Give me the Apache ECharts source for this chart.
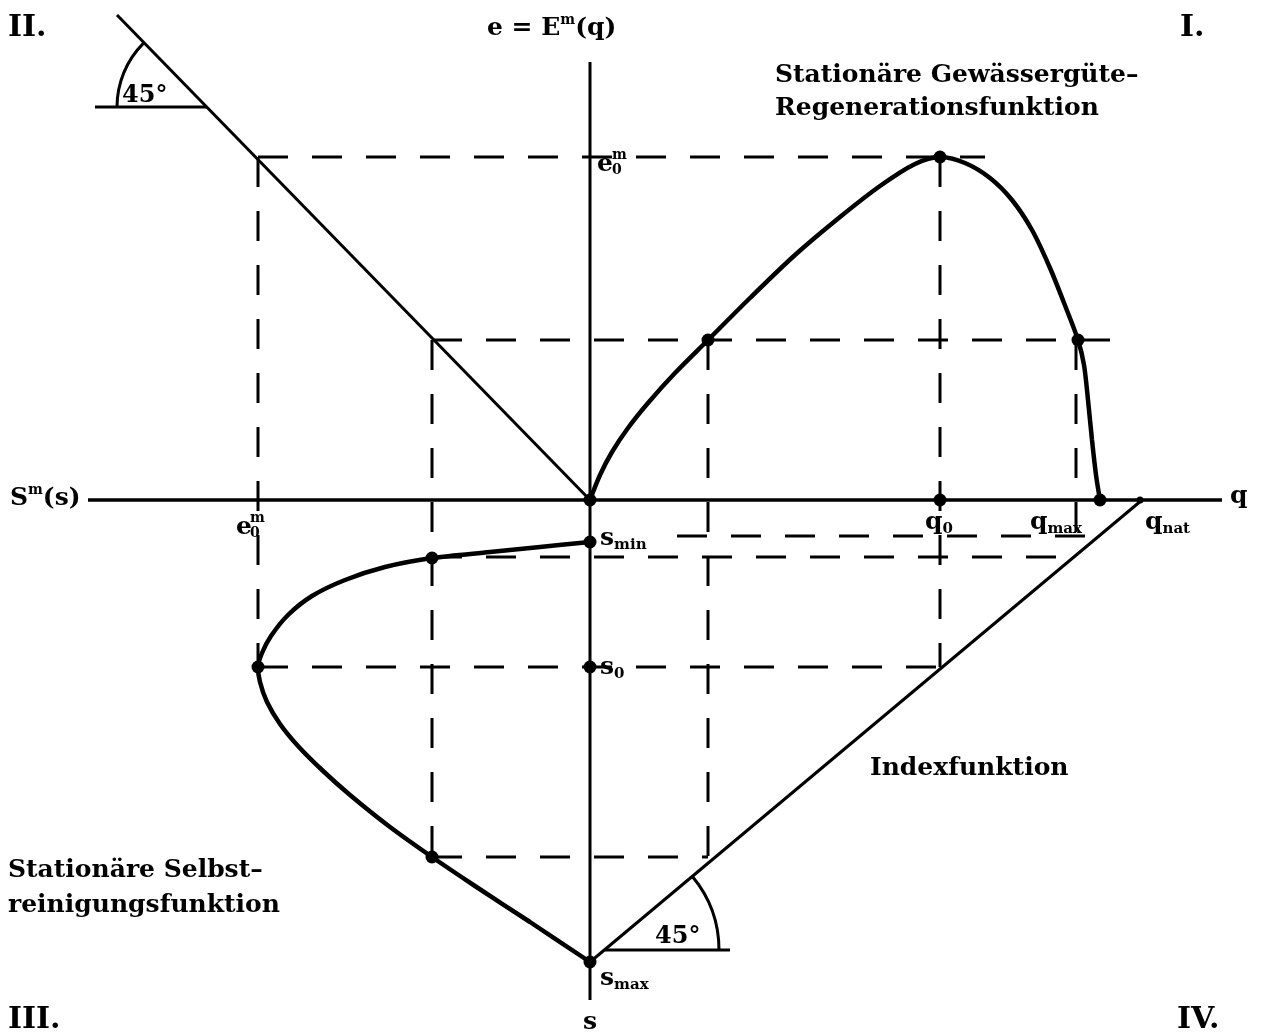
<!DOCTYPE html>
<html>
<head>
<meta charset="utf-8">
<script src="https://cdn.jsdelivr.net/npm/echarts@6/dist/echarts.min.js"></script>
<style>
  html, body { margin: 0; background: #fff; }
  #chart { width: 1262px; height: 1036px; }
</style>
</head>
<body>
<div id="chart"></div>
<script>
// Koordinaten: Ursprung im Schnittpunkt der Achsen, y nach oben
var axisQ = [[-502, 0], [632, 0]];
var axisE = [[0, 438], [0, -500]];
var line45 = [[-473, 485], [0, 0]];          // Quadrant II
var indexLine = [[0, -462], [552, 0]];       // Indexfunktion, Quadrant IV
var mark45Top = [[-495, 393], [-383, 393]];
var mark45Bottom = [[15, -450], [140, -450]];

// Stationäre Gewässergüte-Regenerationsfunktion (I)
var regenCurve = [
  [0, 0], [10, 25], [22, 48], [38, 72], [58, 97], [85, 127], [118, 160],
  [160, 202], [205, 245], [250, 283], [290, 314], [325, 336], [350, 343],
  [375, 337], [400, 322], [422, 300], [442, 270], [460, 232], [476, 192],
  [488, 160], [494, 135], [498, 100], [502, 60], [506, 25], [510, 0]
];

// Stationäre Selbstreinigungsfunktion (III)
var selfCurve = [
  [0, -42], [-50, -47], [-100, -52], [-158, -58], [-205, -67], [-245, -80],
  [-278, -96], [-302, -115], [-319, -136], [-328, -153], [-332, -167],
  [-330, -182], [-323, -202], [-310, -224], [-292, -246], [-268, -270],
  [-240, -295], [-200, -327], [-158, -357], [-115, -386], [-60, -422], [0, -462]
];

// gestrichelte Hilfslinien
var guides = [
  [[-332, 343], [395, 343]],
  [[-332, 343], [-332, -167]],
  [[-158, 160], [520, 160]],
  [[-158, 160], [-158, -357]],
  [[118, 160], [118, -357]],
  [[350, 343], [350, -167]],
  [[486, 160], [486, -55]],
  [[-332, -167], [350, -167]],
  [[-158, -357], [118, -357]],
  [[87, -36], [509, -36]],
  [[-158, -57], [484, -57]]
];

var dots = [
  [0, 0], [118, 160], [350, 343], [488, 160], [510, 0], [350, 0],
  [0, -42], [-158, -58], [-332, -167], [0, -167], [-158, -357], [0, -462]
];
var smallDots = [[550, 0]];

// Beschriftungen: [Text, x, y, Ausrichtung]
var annotations = [
  ['{r|II.}', -582, 472, 'left'],
  ['{r|I.}', 590, 472, 'left'],
  ['{r|III.}', -582, -520, 'left'],
  ['{r|IV.}', 587, -520, 'left'],
  ['{t|e = E}{sup|m}{t|(q)}', -103, 472, 'left'],
  ['{t|Stationäre Gewässergüte–}', 185, 425, 'left'],
  ['{t|Regenerationsfunktion}', 185, 392, 'left'],
  ['{t|e}', 7, 336, 'left'],
  ['{st|m}\n{st|0}', 22, 337, 'left'],
  ['{t|e}', -354, -27, 'left'],
  ['{st|m}\n{st|0}', -340, -26, 'left'],
  ['{t|S}{sup|m}{t|(s)}', -580, 2, 'left'],
  ['{t|q}', 640, 4, 'left'],
  ['{t|q}{sub|0}', 335, -22, 'left'],
  ['{t|q}{sub|max}', 440, -22, 'left'],
  ['{t|q}{sub|nat}', 555, -22, 'left'],
  ['{t|s}{sub|min}', 10, -38, 'left'],
  ['{t|s}{sub|0}', 10, -167, 'left'],
  ['{t|s}{sub|max}', 10, -478, 'left'],
  ['{t|s}', 0, -522, 'center'],
  ['{t|Indexfunktion}', 280, -268, 'left'],
  ['{t|Stationäre Selbst–}', -582, -370, 'left'],
  ['{t|reinigungsfunktion}', -582, -405, 'left'],
  ['{d|45°}', -468, 404, 'left'],
  ['{d|45°}', 65, -437, 'left']
];

var FONT = 'DejaVu Serif';

function solid(data, width, smooth) {
  return {
    type: 'line', data: data, symbol: 'none', smooth: smooth || false,
    lineStyle: { color: '#000', width: width }, z: 3
  };
}

var series = [
  solid(axisQ, 3.5),
  solid(axisE, 3),
  solid(line45, 3),
  solid(indexLine, 3),
  solid(mark45Top, 3),
  solid(mark45Bottom, 3),
  solid(regenCurve, 4.5, 0.3),
  solid(selfCurve, 4.5, 0.3)
];

guides.forEach(function (g) {
  series.push({
    type: 'line', data: g, symbol: 'none',
    lineStyle: { color: '#000', width: 3, type: [30, 24] }, z: 2
  });
});

series.push({
  type: 'scatter', data: dots, symbol: 'circle', symbolSize: 13,
  itemStyle: { color: '#000', opacity: 1 }, z: 5
});
series.push({
  type: 'scatter', data: smallDots, symbol: 'circle', symbolSize: 7,
  itemStyle: { color: '#000', opacity: 1 }, z: 5
});

series.push({
  type: 'scatter', symbolSize: 0, z: 6, silent: true,
  itemStyle: { opacity: 1 },
  data: annotations.map(function (a) {
    return {
      value: [a[1], a[2]],
      label: {
        show: true, position: 'inside', formatter: a[0],
        align: a[3], verticalAlign: 'middle'
      }
    };
  }),
  label: {
    color: '#000',
    opacity: 1,
    rich: {
      r: { fontFamily: FONT, fontWeight: 'bold', fontSize: 30, color: '#000' },
      t: { fontFamily: FONT, fontWeight: 'bold', fontSize: 25, color: '#000', lineHeight: 30 },
      d: { fontFamily: FONT, fontWeight: 'bold', fontSize: 24, color: '#000' },
      sup: { fontFamily: FONT, fontWeight: 'bold', fontSize: 14, color: '#000', verticalAlign: 'top' },
      sub: { fontFamily: FONT, fontWeight: 'bold', fontSize: 15, color: '#000', verticalAlign: 'bottom' },
      st: { fontFamily: FONT, fontWeight: 'bold', fontSize: 14, color: '#000', lineHeight: 15 }
    }
  }
});

var chart = echarts.init(document.getElementById('chart'));
chart.setOption({
  animation: false,
  backgroundColor: '#fff',
  grid: { left: 0, right: 0, top: 0, bottom: 0 },
  xAxis: { type: 'value', min: -590, max: 672, show: false },
  yAxis: { type: 'value', min: -536, max: 500, show: false },
  series: series
});

// 45°-Bögen an den Winkelscheiteln
function arcAt(vertex, r, a0, a1) {
  var c = chart.convertToPixel({ gridIndex: 0 }, vertex);
  return {
    type: 'arc',
    shape: { cx: c[0], cy: c[1], r: r, startAngle: a0, endAngle: a1, clockwise: true },
    style: { stroke: '#000', lineWidth: 3, fill: null },
    z: 4
  };
}
chart.setOption({
  graphic: [
    arcAt(mark45Top[1], 90, Math.PI, Math.PI * 1.25),
    arcAt([14, -450], 115, -Math.PI * 0.22, 0)
  ]
});
</script>
</body>
</html>
